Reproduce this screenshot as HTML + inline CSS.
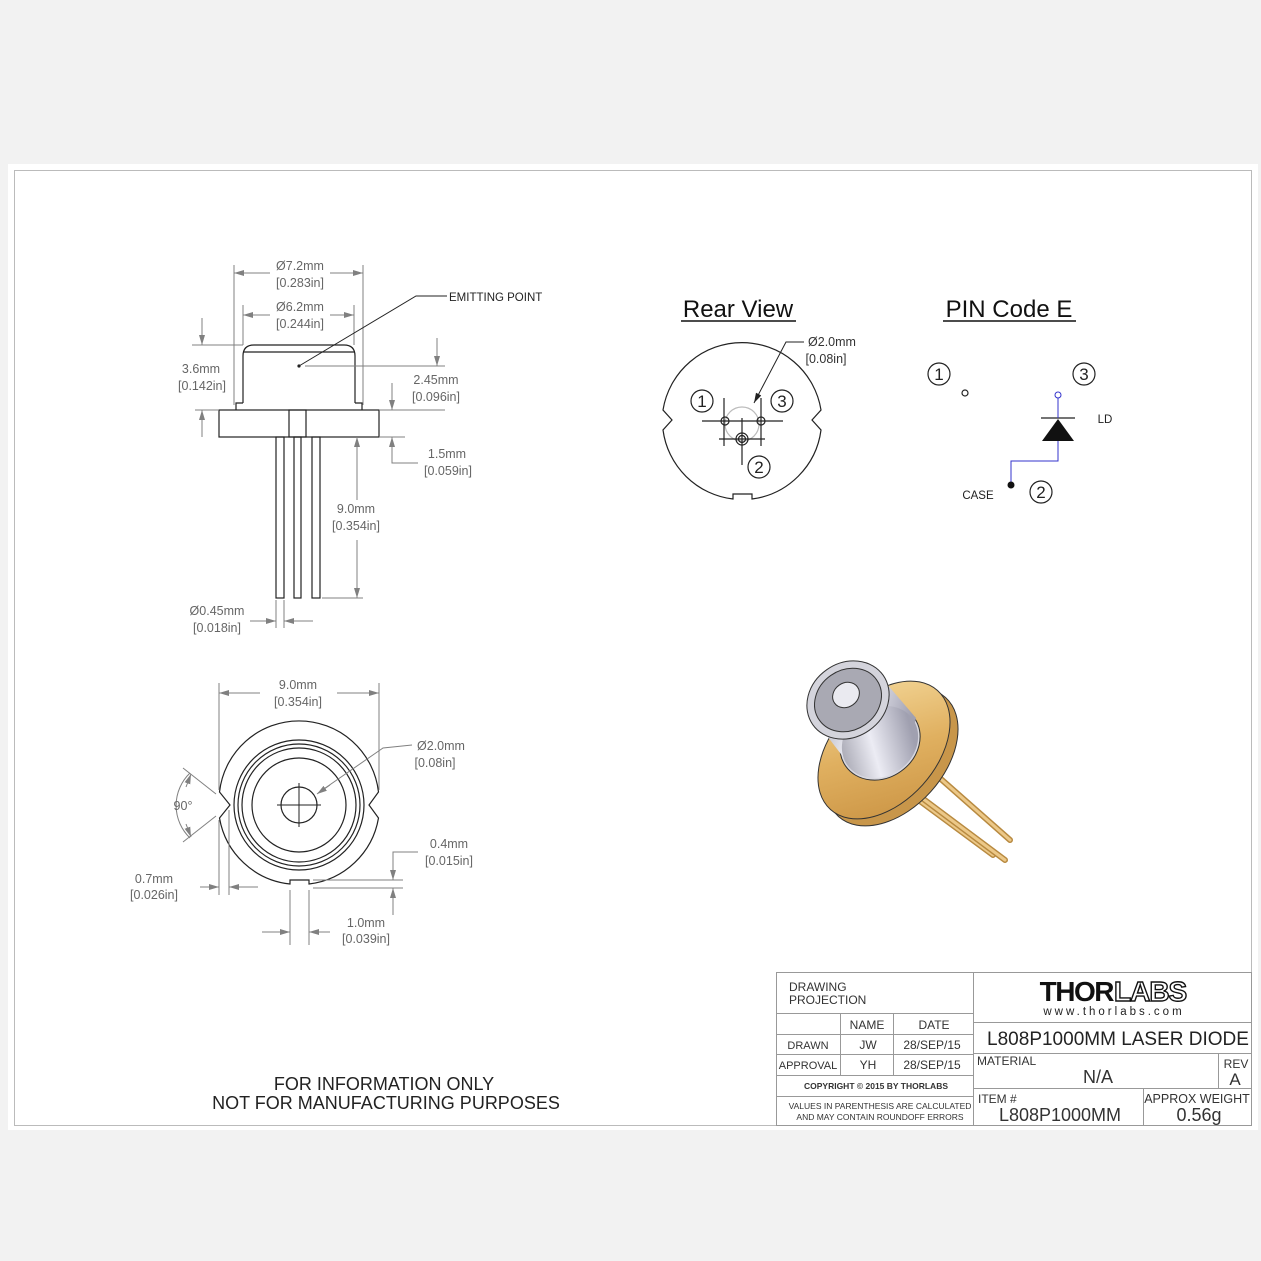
<!DOCTYPE html>
<html><head><meta charset="utf-8"><style>
html,body{margin:0;padding:0;background:#f2f2f2;}
svg{display:block;}
text{font-family:"Liberation Sans",sans-serif;}
.d{fill:#666;font-size:12.5px;text-anchor:middle;}
.dl{stroke:#808080;stroke-width:1;fill:none;}
.k{stroke:#222;stroke-width:1.2;fill:none;}
</style></head><body>
<svg width="1261" height="1261" viewBox="0 0 1261 1261" xmlns="http://www.w3.org/2000/svg">
<defs>
<marker id="a" viewBox="0 0 10 6" refX="10" refY="3" markerWidth="10" markerHeight="6" orient="auto-start-reverse" markerUnits="userSpaceOnUse"><path d="M0,0 L10,3 L0,6 z" fill="#808080"/></marker>
<marker id="ab" viewBox="0 0 10 6" refX="10" refY="3" markerWidth="11" markerHeight="6" orient="auto" markerUnits="userSpaceOnUse"><path d="M0,0 L10,3 L0,6 z" fill="#222"/></marker>
<linearGradient id="gold" x1="0" y1="0" x2="1" y2="1"><stop offset="0" stop-color="#f6dca0"/><stop offset="0.5" stop-color="#e0b060"/><stop offset="1" stop-color="#c89040"/></linearGradient>
<linearGradient id="gray" x1="0" y1="0" x2="1" y2="0.3"><stop offset="0" stop-color="#9a9aa6"/><stop offset="0.5" stop-color="#ececf4"/><stop offset="1" stop-color="#a0a0b0"/></linearGradient>
</defs>
<rect x="8" y="164" width="1250" height="966" fill="#fff"/>
<rect x="14.5" y="170.5" width="1237" height="955" fill="none" stroke="#bbb" stroke-width="1"/>

<!-- SIDE VIEW -->
<g class="k">
<path d="M243,403 L243,356 Q243,345 254,345 L344,345 Q355,345 355,356 L355,403"/>
<line x1="243" y1="352" x2="355" y2="352"/>
<path d="M243,403 L236,403 L236,410 M355,403 L362,403 L362,410"/>
<rect x="219" y="410" width="160" height="27"/>
<rect x="289" y="410" width="17" height="27"/>
<rect x="276" y="437" width="8" height="161"/>
<rect x="294" y="437" width="7" height="161"/>
<rect x="312" y="437" width="8" height="161"/>
</g>
<g class="dl">
<line x1="234" y1="265" x2="234" y2="405"/><line x1="363" y1="265" x2="363" y2="405"/>
<line x1="270" y1="273" x2="234" y2="273" marker-end="url(#a)"/><line x1="330" y1="273" x2="363" y2="273" marker-end="url(#a)"/>
<line x1="243" y1="305" x2="243" y2="345"/><line x1="354" y1="305" x2="354" y2="345"/>
<line x1="270" y1="315" x2="243" y2="315" marker-end="url(#a)"/><line x1="330" y1="315" x2="354" y2="315" marker-end="url(#a)"/>
<line x1="192" y1="345" x2="243" y2="345"/><line x1="195" y1="410" x2="219" y2="410"/>
<line x1="202" y1="318" x2="202" y2="345" marker-end="url(#a)"/><line x1="202" y1="437" x2="202" y2="410" marker-end="url(#a)"/>
<line x1="305" y1="366" x2="445" y2="366"/><line x1="379" y1="410" x2="445" y2="410"/>
<line x1="437" y1="338" x2="437" y2="366" marker-end="url(#a)"/><line x1="392" y1="383" x2="392" y2="410" marker-end="url(#a)"/>
<line x1="379" y1="437" x2="405" y2="437"/>
<path d="M392,437 L392,463 L418,463"/><line x1="392" y1="450" x2="392" y2="437" marker-end="url(#a)"/>
<line x1="322" y1="598" x2="363" y2="598"/>
<line x1="357" y1="500" x2="357" y2="437" marker-end="url(#a)"/><line x1="357" y1="540" x2="357" y2="598" marker-end="url(#a)"/>
<line x1="276" y1="600" x2="276" y2="628"/><line x1="284" y1="600" x2="284" y2="628"/>
<line x1="250" y1="621" x2="276" y2="621" marker-end="url(#a)"/><line x1="313" y1="621" x2="284" y2="621" marker-end="url(#a)"/>
</g>
<path d="M299,366 L416,296 L447,296" stroke="#222" stroke-width="1" fill="none"/>
<circle cx="299" cy="366" r="1.6" fill="#222"/>
<text x="449" y="301" style="font-size:11.5px;fill:#222">EMITTING POINT</text>
<text class="d" x="300" y="270">Ø7.2mm</text><text class="d" x="300" y="287">[0.283in]</text>
<text class="d" x="300" y="311">Ø6.2mm</text><text class="d" x="300" y="328">[0.244in]</text>
<text class="d" x="201" y="373">3.6mm</text><text class="d" x="202" y="390">[0.142in]</text>
<text class="d" x="436" y="384">2.45mm</text><text class="d" x="436" y="401">[0.096in]</text>
<text class="d" x="447" y="458">1.5mm</text><text class="d" x="448" y="475">[0.059in]</text>
<text class="d" x="356" y="513">9.0mm</text><text class="d" x="356" y="530">[0.354in]</text>
<text class="d" x="217" y="615">Ø0.45mm</text><text class="d" x="217" y="632">[0.018in]</text>

<!-- BOTTOM VIEW -->
<g class="k">
<path d="M219.5,818 A80,80 0 0 0 290,884 L290,880 L309,880 L309,884 A80,80 0 0 0 378.5,818 L369,805 L378.5,792 A80,80 0 0 0 219.5,792 L230,805 Z"/>
<circle cx="299" cy="805" r="65"/><circle cx="299" cy="805" r="61"/><circle cx="299" cy="805" r="57"/><circle cx="299" cy="805" r="47"/>
<circle cx="299" cy="805" r="18"/>
<line x1="277" y1="805" x2="321" y2="805" stroke-width="1"/><line x1="299" y1="783" x2="299" y2="827" stroke-width="1"/>
</g>
<g class="dl">
<line x1="219" y1="683" x2="219" y2="790"/><line x1="379" y1="683" x2="379" y2="790"/>
<line x1="260" y1="693" x2="219" y2="693" marker-end="url(#a)"/><line x1="337" y1="693" x2="379" y2="693" marker-end="url(#a)"/>
<path d="M412,745 L383,748 L318,793" /><line x1="330" y1="785" x2="317" y2="794" marker-end="url(#a)"/>
<line x1="216" y1="794" x2="183" y2="768"/><line x1="216" y1="816" x2="183" y2="842"/>
<path d="M190,773 A45,45 0 0 0 190,838"/>
<line x1="186" y1="787" x2="191" y2="774" marker-end="url(#a)"/><line x1="186" y1="824" x2="191" y2="837" marker-end="url(#a)"/>
<line x1="219" y1="820" x2="219" y2="895"/><line x1="229" y1="810" x2="229" y2="895"/>
<line x1="200" y1="887" x2="219" y2="887" marker-end="url(#a)"/><line x1="258" y1="887" x2="229" y2="887" marker-end="url(#a)"/>
<line x1="313" y1="880" x2="403" y2="880"/><line x1="313" y1="888" x2="403" y2="888"/>
<path d="M418,852 L393,852 L393,880" /><line x1="393" y1="862" x2="393" y2="880" marker-end="url(#a)"/>
<line x1="393" y1="915" x2="393" y2="888" marker-end="url(#a)"/>
<line x1="290" y1="890" x2="290" y2="945"/><line x1="309" y1="890" x2="309" y2="945"/>
<line x1="262" y1="932" x2="290" y2="932" marker-end="url(#a)"/><line x1="330" y1="932" x2="309" y2="932" marker-end="url(#a)"/>
</g>
<text class="d" x="298" y="689">9.0mm</text><text class="d" x="298" y="706">[0.354in]</text>
<text class="d" x="441" y="750">Ø2.0mm</text><text class="d" x="435" y="767">[0.08in]</text>
<text class="d" x="183" y="810">90°</text>
<text class="d" x="154" y="883">0.7mm</text><text class="d" x="154" y="899">[0.026in]</text>
<text class="d" x="449" y="848">0.4mm</text><text class="d" x="449" y="865">[0.015in]</text>
<text class="d" x="366" y="927">1.0mm</text><text class="d" x="366" y="943">[0.039in]</text>

<!-- REAR VIEW -->
<text x="738" y="317" style="font-size:24px;fill:#111;text-anchor:middle">Rear View</text>
<line x1="681" y1="321" x2="796" y2="321" stroke="#111" stroke-width="1.5"/>
<circle cx="742" cy="424" r="17" fill="none" stroke="#bbb" stroke-width="1.2"/>
<g class="k" stroke-width="1">
<path d="M663,430 A80,80 0 0 0 733,499 L733,494 L752,494 L752,499 A80,80 0 0 0 821,430 L812,420 L821,410 A80,80 0 0 0 663,410 L672,420 Z"/>
<line x1="702" y1="421" x2="783" y2="421"/><line x1="724" y1="398" x2="724" y2="446"/><line x1="761" y1="398" x2="761" y2="446"/>
<line x1="719" y1="439" x2="765" y2="439"/><line x1="742" y1="418" x2="742" y2="465"/>
<circle cx="725" cy="421" r="4"/><circle cx="761" cy="421" r="4"/><circle cx="742" cy="439" r="6"/><circle cx="742" cy="439" r="3.5"/>
<circle cx="702" cy="401" r="11"/><circle cx="782" cy="401" r="11"/><circle cx="759" cy="467" r="11"/>
</g>
<path d="M804,342 L786,342 L754,403" stroke="#222" stroke-width="1" fill="none" marker-end="url(#ab)"/>
<g style="font-size:17px;fill:#222;text-anchor:middle"><text x="702" y="407">1</text><text x="782" y="407">3</text><text x="759" y="473">2</text></g>
<text class="d" x="832" y="346" style="fill:#333">Ø2.0mm</text><text class="d" x="826" y="363" style="fill:#333">[0.08in]</text>

<!-- PIN CODE -->
<text x="1009" y="317" style="font-size:24px;fill:#111;text-anchor:middle">PIN Code E</text>
<line x1="943" y1="321" x2="1076" y2="321" stroke="#111" stroke-width="1.5"/>
<g class="k" stroke-width="1">
<circle cx="939" cy="374" r="11"/><circle cx="1084" cy="374" r="11"/><circle cx="1041" cy="492" r="11"/>
<circle cx="965" cy="393" r="3"/>
<line x1="1041" y1="418" x2="1075" y2="418" stroke="#222"/>
</g>
<g style="font-size:17px;fill:#222;text-anchor:middle"><text x="939" y="380">1</text><text x="1084" y="380">3</text><text x="1041" y="498">2</text></g>
<circle cx="1058" cy="395" r="3" fill="none" stroke="#3333cc" stroke-width="1"/>
<path d="M1058,398 L1058,418 M1058,441 L1058,461 L1011,461 L1011,485" stroke="#3333cc" stroke-width="1" fill="none"/>
<path d="M1058,419 L1042,441 L1074,441 Z" fill="#111"/>
<circle cx="1011" cy="485" r="3.5" fill="#111"/>
<text x="978" y="499" style="font-size:11.5px;fill:#222;text-anchor:middle">CASE</text>
<text x="1105" y="423" style="font-size:11.5px;fill:#222;text-anchor:middle">LD</text>

<!-- 3D -->
<g stroke="#333" stroke-width="1">
<line x1="925" y1="765" x2="1010" y2="840" stroke="#b88a40" stroke-width="6" stroke-linecap="round"/>
<line x1="925" y1="765" x2="1010" y2="840" stroke="#ecc888" stroke-width="3" stroke-linecap="round"/>
<line x1="905" y1="790" x2="993" y2="855" stroke="#b88a40" stroke-width="6" stroke-linecap="round"/>
<line x1="905" y1="790" x2="993" y2="855" stroke="#ecc888" stroke-width="3" stroke-linecap="round"/>
<line x1="918" y1="795" x2="1005" y2="860" stroke="#b88a40" stroke-width="6" stroke-linecap="round"/>
<line x1="918" y1="795" x2="1005" y2="860" stroke="#ecc888" stroke-width="3" stroke-linecap="round"/>
<ellipse cx="892" cy="757" rx="52" ry="80" transform="rotate(42 892 757)" fill="#c8964a"/>
<ellipse cx="884" cy="750" rx="52" ry="80" transform="rotate(42 884 750)" fill="url(#gold)"/>
<ellipse cx="880" cy="742" rx="42" ry="36" transform="rotate(-35 880 742)" fill="#d8d8e0"/>
<path d="M818,724 L850,766 Q905,775 916,718 L880,676 Z" fill="url(#gray)" stroke="none"/>
<ellipse cx="880" cy="742" rx="40" ry="34" transform="rotate(-35 880 742)" fill="url(#gray)" stroke="none"/>
<ellipse cx="848" cy="700" rx="43" ry="37" transform="rotate(-35 848 700)" fill="#d4d4dc"/>
<ellipse cx="848" cy="700" rx="35" ry="30" transform="rotate(-35 848 700)" fill="#a9a9b3"/>
<ellipse cx="846" cy="695" rx="14" ry="12" transform="rotate(-35 846 695)" fill="#eaeaf0"/>
</g>

<!-- notes -->
<text x="384" y="1090" style="font-size:18px;fill:#222;text-anchor:middle">FOR INFORMATION ONLY</text>
<text x="386" y="1109" style="font-size:18px;fill:#222;text-anchor:middle">NOT FOR MANUFACTURING PURPOSES</text>

<!-- TITLE BLOCK -->
<g stroke="#999" stroke-width="1" fill="none">
<rect x="776.5" y="972.5" width="475" height="153"/>
<line x1="973.5" y1="972" x2="973.5" y2="1126"/>
<line x1="777" y1="1013.5" x2="973" y2="1013.5"/><line x1="777" y1="1034.5" x2="973" y2="1034.5"/>
<line x1="777" y1="1054.5" x2="973" y2="1054.5"/><line x1="777" y1="1075.5" x2="973" y2="1075.5"/>
<line x1="777" y1="1096.5" x2="973" y2="1096.5"/>
<line x1="840.5" y1="1013" x2="840.5" y2="1075"/><line x1="893.5" y1="1013" x2="893.5" y2="1075"/>
<line x1="974" y1="1022.5" x2="1252" y2="1022.5"/><line x1="974" y1="1053.5" x2="1252" y2="1053.5"/>
<line x1="974" y1="1088.5" x2="1252" y2="1088.5"/>
<line x1="1218.5" y1="1053" x2="1218.5" y2="1088"/><line x1="1143.5" y1="1088" x2="1143.5" y2="1126"/>
</g>
<g style="fill:#333">
<text x="789" y="991" style="font-size:12px">DRAWING</text><text x="789" y="1004" style="font-size:12px">PROJECTION</text>
<text x="867" y="1029" style="font-size:12px;text-anchor:middle">NAME</text><text x="934" y="1029" style="font-size:12px;text-anchor:middle">DATE</text>
<text x="808" y="1049" style="font-size:11px;text-anchor:middle">DRAWN</text><text x="868" y="1049" style="font-size:12px;text-anchor:middle">JW</text><text x="932" y="1049" style="font-size:12px;text-anchor:middle">28/SEP/15</text>
<text x="808" y="1069" style="font-size:11px;text-anchor:middle">APPROVAL</text><text x="868" y="1069" style="font-size:12px;text-anchor:middle">YH</text><text x="932" y="1069" style="font-size:12px;text-anchor:middle">28/SEP/15</text>
<text x="876" y="1089" style="font-size:8.5px;font-weight:bold;text-anchor:middle">COPYRIGHT © 2015 BY THORLABS</text>
<text x="880" y="1109" style="font-size:8.5px;text-anchor:middle">VALUES IN PARENTHESIS ARE CALCULATED</text>
<text x="880" y="1120" style="font-size:8.5px;text-anchor:middle">AND MAY CONTAIN ROUNDOFF ERRORS</text>
<text x="1113" y="1001" style="font-size:28px;font-weight:bold;fill:#111;text-anchor:end;letter-spacing:-1.5px">THOR</text>
<text x="1114" y="1001" style="font-size:28px;font-weight:bold;fill:#fff;stroke:#111;stroke-width:1.4;letter-spacing:-1px">LABS</text>
<text x="1114" y="1015" style="font-size:11.5px;fill:#222;text-anchor:middle;letter-spacing:3px">www.thorlabs.com</text>
<text x="1118" y="1045" style="font-size:19px;fill:#222;text-anchor:middle">L808P1000MM LASER DIODE</text>
<text x="977" y="1065" style="font-size:12px">MATERIAL</text>
<text x="1098" y="1083" style="font-size:18px;text-anchor:middle">N/A</text>
<text x="1236" y="1068" style="font-size:12px;text-anchor:middle">REV</text><text x="1235" y="1085" style="font-size:17px;text-anchor:middle">A</text>
<text x="978" y="1103" style="font-size:12px">ITEM #</text>
<text x="1060" y="1121" style="font-size:18px;text-anchor:middle">L808P1000MM</text>
<text x="1197" y="1103" style="font-size:12.5px;text-anchor:middle">APPROX WEIGHT</text>
<text x="1199" y="1121" style="font-size:18px;text-anchor:middle">0.56g</text>
</g>
</svg>
</body></html>
